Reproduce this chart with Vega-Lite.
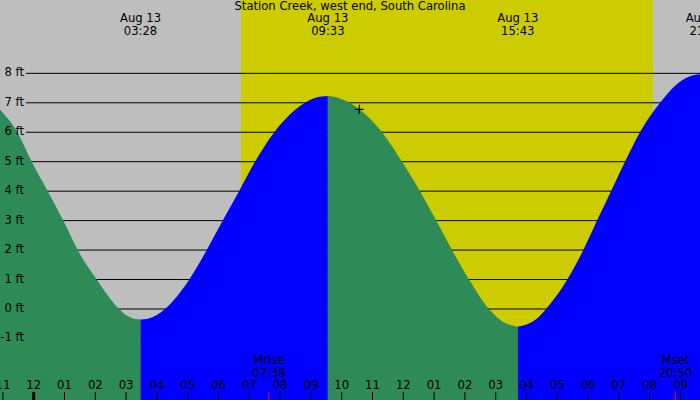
{
  "$schema": "https://vega.github.io/schema/vega-lite/v6.json",
  "width": 700,
  "height": 400,
  "autosize": {"type": "none"},
  "padding": 0,
  "background": "white",
  "config": {"view": {"stroke": null}, "text": {"font": "DejaVu Sans", "fontSize": 11.6, "color": "black", "baseline": "middle"}},
  "datasets": {
    "bg": [
      {"s": -1.6, "e": 6.731, "c": "night"},
      {"s": 6.731, "e": 20.107, "c": "day"},
      {"s": 20.107, "e": 22.5, "c": "night"}
    ],
    "levels": [
      {"v": -1, "lab": "-1 ft"}, {"v": 0, "lab": "0 ft"}, {"v": 1, "lab": "1 ft"}, {"v": 2, "lab": "2 ft"},
      {"v": 3, "lab": "3 ft"}, {"v": 4, "lab": "4 ft"}, {"v": 5, "lab": "5 ft"}, {"v": 6, "lab": "6 ft"},
      {"v": 7, "lab": "7 ft"}, {"v": 8, "lab": "8 ft"}
    ],
    "tide": [
      {"h": -1.6, "ft": 7.2, "seg": "A", "c": "fall"},
      {"h": -1.094, "ft": 6.76, "seg": "A", "c": "fall"},
      {"h": -0.532, "ft": 6.0, "seg": "A", "c": "fall"},
      {"h": -0.065, "ft": 5.0, "seg": "A", "c": "fall"},
      {"h": 0.455, "ft": 4.0, "seg": "A", "c": "fall"},
      {"h": 0.961, "ft": 3.0, "seg": "A", "c": "fall"},
      {"h": 1.429, "ft": 2.0, "seg": "A", "c": "fall"},
      {"h": 2.045, "ft": 1.0, "seg": "A", "c": "fall"},
      {"h": 2.769, "ft": 0.0, "seg": "A", "c": "fall"},
      {"h": 3.05, "ft": -0.24, "seg": "A", "c": "fall"},
      {"h": 3.25, "ft": -0.33, "seg": "A", "c": "fall"},
      {"h": 3.467, "ft": -0.36, "seg": "A", "c": "fall"},
      {"h": 3.467, "ft": -0.36, "seg": "B", "c": "rise"},
      {"h": 3.7, "ft": -0.33, "seg": "B", "c": "rise"},
      {"h": 4.0, "ft": -0.2, "seg": "B", "c": "rise"},
      {"h": 4.263, "ft": 0.0, "seg": "B", "c": "rise"},
      {"h": 5.052, "ft": 1.0, "seg": "B", "c": "rise"},
      {"h": 5.617, "ft": 2.0, "seg": "B", "c": "rise"},
      {"h": 6.136, "ft": 3.0, "seg": "B", "c": "rise"},
      {"h": 6.666, "ft": 4.0, "seg": "B", "c": "rise"},
      {"h": 7.185, "ft": 5.0, "seg": "B", "c": "rise"},
      {"h": 7.812, "ft": 6.0, "seg": "B", "c": "rise"},
      {"h": 8.808, "ft": 7.0, "seg": "B", "c": "rise"},
      {"h": 9.15, "ft": 7.17, "seg": "B", "c": "rise"},
      {"h": 9.55, "ft": 7.23, "seg": "B", "c": "rise"},
      {"h": 9.55, "ft": 7.23, "seg": "C", "c": "fall"},
      {"h": 9.95, "ft": 7.15, "seg": "C", "c": "fall"},
      {"h": 10.26, "ft": 7.0, "seg": "C", "c": "fall"},
      {"h": 10.57, "ft": 6.78, "seg": "C", "c": "fall"},
      {"h": 11.31, "ft": 6.0, "seg": "C", "c": "fall"},
      {"h": 11.958, "ft": 5.0, "seg": "C", "c": "fall"},
      {"h": 12.542, "ft": 4.0, "seg": "C", "c": "fall"},
      {"h": 13.071, "ft": 3.0, "seg": "C", "c": "fall"},
      {"h": 13.581, "ft": 2.0, "seg": "C", "c": "fall"},
      {"h": 14.133, "ft": 1.0, "seg": "C", "c": "fall"},
      {"h": 14.782, "ft": 0.0, "seg": "C", "c": "fall"},
      {"h": 15.1, "ft": -0.33, "seg": "C", "c": "fall"},
      {"h": 15.4, "ft": -0.52, "seg": "C", "c": "fall"},
      {"h": 15.717, "ft": -0.6, "seg": "C", "c": "fall"},
      {"h": 15.717, "ft": -0.6, "seg": "D", "c": "rise"},
      {"h": 16.0, "ft": -0.53, "seg": "D", "c": "rise"},
      {"h": 16.3, "ft": -0.36, "seg": "D", "c": "rise"},
      {"h": 16.636, "ft": 0.0, "seg": "D", "c": "rise"},
      {"h": 17.325, "ft": 1.0, "seg": "D", "c": "rise"},
      {"h": 17.844, "ft": 2.0, "seg": "D", "c": "rise"},
      {"h": 18.289, "ft": 3.0, "seg": "D", "c": "rise"},
      {"h": 18.744, "ft": 4.0, "seg": "D", "c": "rise"},
      {"h": 19.198, "ft": 5.0, "seg": "D", "c": "rise"},
      {"h": 19.685, "ft": 6.0, "seg": "D", "c": "rise"},
      {"h": 20.334, "ft": 7.0, "seg": "D", "c": "rise"},
      {"h": 21.039, "ft": 7.76, "seg": "D", "c": "rise"},
      {"h": 21.35, "ft": 7.92, "seg": "D", "c": "rise"},
      {"h": 21.633, "ft": 7.97, "seg": "D", "c": "rise"},
      {"h": 21.85, "ft": 8.0, "seg": "D", "c": "rise"}
    ],
    "now": [{"h": 10.57, "ft": 6.78}],
    "extremes": [
      {"h": 3.467, "date": "Aug 13", "time": "03:28"},
      {"h": 9.55, "date": "Aug 13", "time": "09:33"},
      {"h": 15.717, "date": "Aug 13", "time": "15:43"},
      {"h": 21.833, "date": "Aug 13", "time": "21:50"}
    ],
    "title": [{"t": "Station Creek, west end, South Carolina"}],
    "hours": [
      {"h": -1, "lab": "11"}, {"h": 0, "lab": "12"}, {"h": 1, "lab": "01"}, {"h": 2, "lab": "02"},
      {"h": 3, "lab": "03"}, {"h": 4, "lab": "04"}, {"h": 5, "lab": "05"}, {"h": 6, "lab": "06"},
      {"h": 7, "lab": "07"}, {"h": 8, "lab": "08"}, {"h": 9, "lab": "09"}, {"h": 10, "lab": "10"},
      {"h": 11, "lab": "11"}, {"h": 12, "lab": "12"}, {"h": 13, "lab": "01"}, {"h": 14, "lab": "02"},
      {"h": 15, "lab": "03"}, {"h": 16, "lab": "04"}, {"h": 17, "lab": "05"}, {"h": 18, "lab": "06"},
      {"h": 19, "lab": "07"}, {"h": 20, "lab": "08"}, {"h": 21, "lab": "09"}
    ],
    "moon": [
      {"h": 7.633, "ev": "Mrise", "time": "07:38"},
      {"h": 20.833, "ev": "Mset", "time": "20:50"}
    ]
  },
  "encoding": {
    "x": {"type": "quantitative", "scale": {"domain": [-1.094, 21.633], "nice": false, "zero": false}, "axis": null},
    "y": {"type": "quantitative", "scale": {"domain": [-3.09, 10.49], "nice": false, "zero": false}, "axis": null}
  },
  "layer": [
    {
      "data": {"name": "bg"},
      "mark": {"type": "rect", "clip": true},
      "encoding": {
        "x": {"field": "s", "type": "quantitative"},
        "x2": {"field": "e"},
        "color": {"field": "c", "type": "nominal", "scale": {"domain": ["night", "day", "fall", "rise"], "range": ["#BEBEBE", "#CCCC00", "#2E8B57", "#0000FF"]}, "legend": null}
      }
    },
    {
      "data": {"name": "levels"},
      "mark": {"type": "rule", "color": "black", "strokeWidth": 1},
      "encoding": {
        "y": {"field": "v", "type": "quantitative"},
        "x": {"datum": -0.25},
        "x2": {"datum": 21.633}
      }
    },
    {
      "data": {"name": "tide"},
      "mark": {"type": "area", "interpolate": "monotone", "clip": true},
      "encoding": {
        "x": {"field": "h", "type": "quantitative"},
        "y": {"field": "ft", "type": "quantitative", "stack": null},
        "y2": {"datum": -3.09},
        "detail": {"field": "seg"},
        "color": {"field": "c", "type": "nominal", "legend": null}
      }
    },
    {
      "data": {"name": "now"},
      "mark": {"type": "point", "shape": "M -1 0 L 1 0 M 0 -1 L 0 1", "filled": false, "stroke": "black", "strokeWidth": 1.2, "size": 81, "opacity": 1},
      "encoding": {
        "x": {"field": "h", "type": "quantitative"},
        "y": {"field": "ft", "type": "quantitative"}
      }
    },
    {
      "data": {"name": "title"},
      "mark": {"type": "text", "align": "center"},
      "encoding": {"x": {"datum": 10.27}, "y": {"datum": 10.26}, "text": {"field": "t"}}
    },
    {
      "data": {"name": "extremes"},
      "mark": {"type": "text", "align": "center"},
      "encoding": {"x": {"field": "h", "type": "quantitative"}, "y": {"datum": 9.845}, "text": {"field": "date"}}
    },
    {
      "data": {"name": "extremes"},
      "mark": {"type": "text", "align": "center"},
      "encoding": {"x": {"field": "h", "type": "quantitative"}, "y": {"datum": 9.40}, "text": {"field": "time"}}
    },
    {
      "data": {"name": "levels"},
      "mark": {"type": "text", "align": "right"},
      "encoding": {"x": {"datum": -0.315}, "y": {"field": "v", "type": "quantitative"}, "text": {"field": "lab"}}
    },
    {
      "data": {"name": "hours"},
      "mark": {"type": "text", "align": "center"},
      "encoding": {"x": {"field": "h", "type": "quantitative"}, "y": {"datum": -2.6}, "text": {"field": "lab"}}
    },
    {
      "data": {"name": "hours"},
      "mark": {"type": "rule", "color": "black"},
      "encoding": {
        "x": {"field": "h", "type": "quantitative"},
        "y": {"datum": -2.82},
        "y2": {"datum": -3.09},
        "strokeWidth": {"condition": {"test": "datum.h === 0", "value": 3}, "value": 1}
      }
    },
    {
      "data": {"name": "moon"},
      "mark": {"type": "rule", "color": "red", "strokeWidth": 1},
      "encoding": {"x": {"field": "h", "type": "quantitative"}, "y": {"datum": -2.82}, "y2": {"datum": -3.09}}
    },
    {
      "data": {"name": "moon"},
      "mark": {"type": "text", "align": "center"},
      "encoding": {"x": {"field": "h", "type": "quantitative"}, "y": {"datum": -1.75}, "text": {"field": "ev"}}
    },
    {
      "data": {"name": "moon"},
      "mark": {"type": "text", "align": "center"},
      "encoding": {"x": {"field": "h", "type": "quantitative"}, "y": {"datum": -2.2}, "text": {"field": "time"}}
    }
  ]
}
